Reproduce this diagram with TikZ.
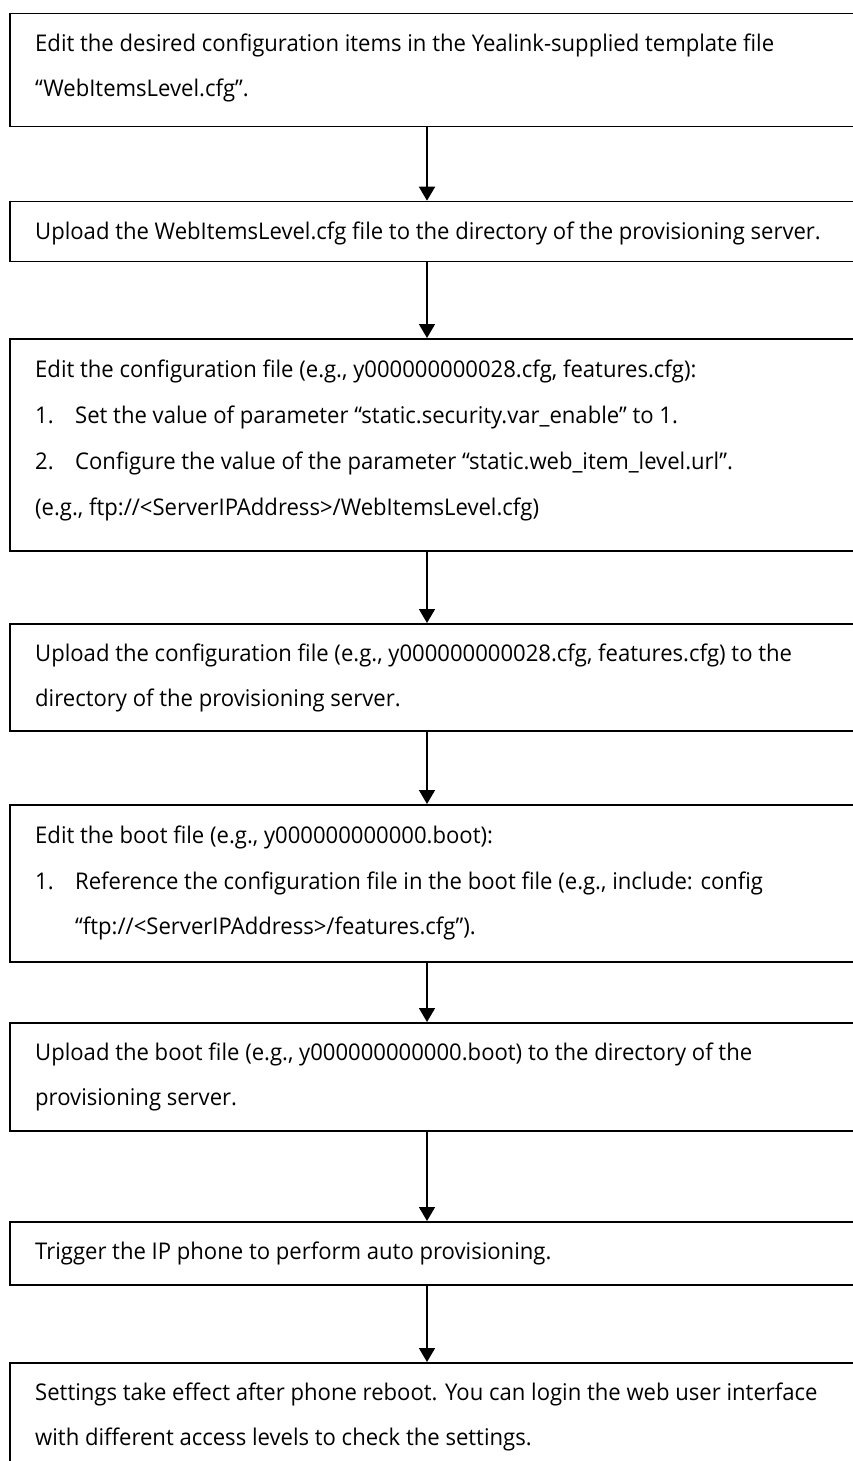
\documentclass[tikz,border=0pt]{standalone}
\usepackage{fontspec}
\setmainfont{Open Sans}[FakeStretch=0.96]
\usetikzlibrary{arrows.meta}
\begin{document}
\begin{tikzpicture}[x=1pt,y=-1pt,
  box/.style={draw, line width=1.7pt, rectangle, inner sep=0pt, minimum width=900pt, anchor=north west},
  txt/.style={anchor=base west, inner sep=0pt, font=\fontsize{23}{27}\selectfont},
  arr/.style={-{Triangle[width=16pt,length=14pt]}, line width=1.7pt}]
\useasboundingbox (0,0) rectangle (853,1461);
\fill[white] (0,0) rectangle (853,1461);
\clip (0,0) rectangle (853,1461);
\coordinate (ax) at (427,0);
% boxes
\node[box, minimum height=113pt] (b1) at (9,12.7) {};
\node[box, minimum height=60pt] (b2) at (9,200.7) {};
\node[box, minimum height=212pt] (b3) at (9,338) {};
\node[box, minimum height=107pt] (b4) at (9,623) {};
\node[box, minimum height=157pt] (b5) at (9,804) {};
\node[box, minimum height=108pt] (b6) at (9,1022) {};
\node[box, minimum height=63pt] (b7) at (9,1221) {};
\node[box, minimum height=120pt] (b8) at (9,1362) {};
% texts
\node[txt] (t1a) at (35,52) {Edit the desired configuration items in the Yealink-supplied template file};
\node[txt] (t1b) at (35,97) {“WebItemsLevel.cfg”.};
\node[txt] (t2) at (35,239) {Upload the WebItemsLevel.cfg file to the directory of the provisioning server.};
\node[txt] (t3a) at (35,377) {Edit the configuration file (e.g., y000000000028.cfg, features.cfg):};
\node[txt] (t3b) at (35,423) {1.};
\node[txt] (t3c) at (75,423) {Set the value of parameter “static.security.var\_enable” to 1.};
\node[txt] (t3d) at (35,469) {2.};
\node[txt] (t3e) at (75,469) {Configure the value of the parameter “static.web\_item\_level.url”.};
\node[txt] (t3f) at (35,515) {(e.g., ftp://<ServerIPAddress>/WebItemsLevel.cfg)};
\node[txt] (t4a) at (35,661) {Upload the configuration file (e.g., y000000000028.cfg, features.cfg) to the};
\node[txt] (t4b) at (35,706) {directory of the provisioning server.};
\node[txt] (t5a) at (35,843) {Edit the boot file (e.g., y000000000000.boot):};
\node[txt] (t5b) at (35,889) {1.};
\node[txt] (t5c) at (75,889) {Reference the configuration file in the boot file (e.g., include: config};
\node[txt] (t5d) at (75,934) {“ftp://<ServerIPAddress>/features.cfg”).};
\node[txt] (t6a) at (35,1060) {Upload the boot file (e.g., y000000000000.boot) to the directory of the};
\node[txt] (t6b) at (35,1105) {provisioning server.};
\node[txt] (t7) at (35,1259) {Trigger the IP phone to perform auto provisioning.};
\node[txt] (t8a) at (35,1400) {Settings take effect after phone reboot. You can login the web user interface};
\node[txt] (t8b) at (35,1445) {with different access levels to check the settings.};
% arrows
\draw[arr] (b1.south -| ax) -- (b2.north -| ax);
\draw[arr] (b2.south -| ax) -- (b3.north -| ax);
\draw[arr] (b3.south -| ax) -- (b4.north -| ax);
\draw[arr] (b4.south -| ax) -- (b5.north -| ax);
\draw[arr] (b5.south -| ax) -- (b6.north -| ax);
\draw[arr] (b6.south -| ax) -- (b7.north -| ax);
\draw[arr] (b7.south -| ax) -- (b8.north -| ax);
\end{tikzpicture}
\end{document}
